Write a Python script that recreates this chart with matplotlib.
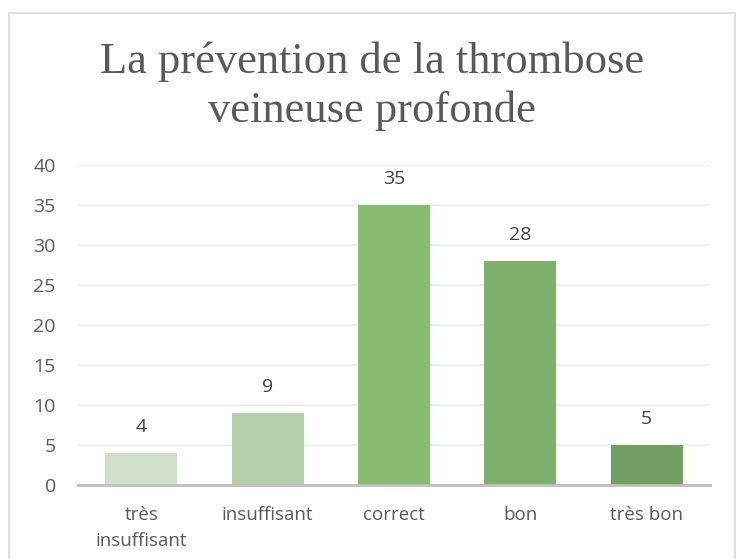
import matplotlib.pyplot as plt
from matplotlib.patches import Rectangle

# données
categories = ["très\ninsuffisant", "insuffisant", "correct", "bon", "très bon"]
valeurs = [4, 9, 35, 28, 5]
couleurs = ["#D0DFCC", "#B5D0AD", "#88BC72", "#7FAF6C", "#739F62"]
yticks = [0, 5, 10, 15, 20, 25, 30, 35, 40]

fig = plt.figure(figsize=(7.44, 5.59), dpi=100)
W, H = 744, 559

# cadre du graphique
fig.patches.append(Rectangle((9 / W, -0.05), 726 / W, 1 - 13 / H + 0.05,
                             transform=fig.transFigure, fill=False,
                             edgecolor="#D9D9D9", linewidth=1.2))

ax = fig.add_axes([78 / W, 1 - 485 / H, 632 / W, 320 / H])
x = range(len(categories))
bars = ax.bar(x, valeurs, width=0.57, color=couleurs, zorder=3)

ax.set_xlim(-0.5, len(categories) - 0.5)
ax.set_ylim(0, 40)
ax.set_yticks(yticks)
ax.set_xticks(list(x))
ax.set_xticklabels(categories, fontsize=13.5, color="#595959",
                   family="Open Sans", linespacing=1.6)
ax.set_yticklabels([str(t) for t in yticks], fontsize=14, color="#595959",
                   family="Open Sans")
ax.tick_params(length=0)
ax.tick_params(axis="y", pad=16)
ax.tick_params(axis="x", pad=15)

ax.grid(axis="y", color="#EEEEEE", linewidth=1.2, zorder=0)
for s in ["top", "right", "left"]:
    ax.spines[s].set_visible(False)
ax.spines["bottom"].set_color("#BFBFBF")
ax.spines["bottom"].set_linewidth(2)
ax.spines["bottom"].set_zorder(4)

for b, v in zip(bars, valeurs):
    ax.annotate(str(v), (b.get_x() + b.get_width() / 2, v),
                xytext=(0, 12), textcoords="offset points",
                ha="center", va="bottom", fontsize=14, color="#404040",
                family="Open Sans")

fig.text(0.5, 1 - 86 / H, "La prévention de la thrombose\nveineuse profonde",
         ha="center", va="center", fontsize=32, color="#595959",
         family="Liberation Serif", linespacing=1.28)

fig.savefig("out.png", dpi=100)
